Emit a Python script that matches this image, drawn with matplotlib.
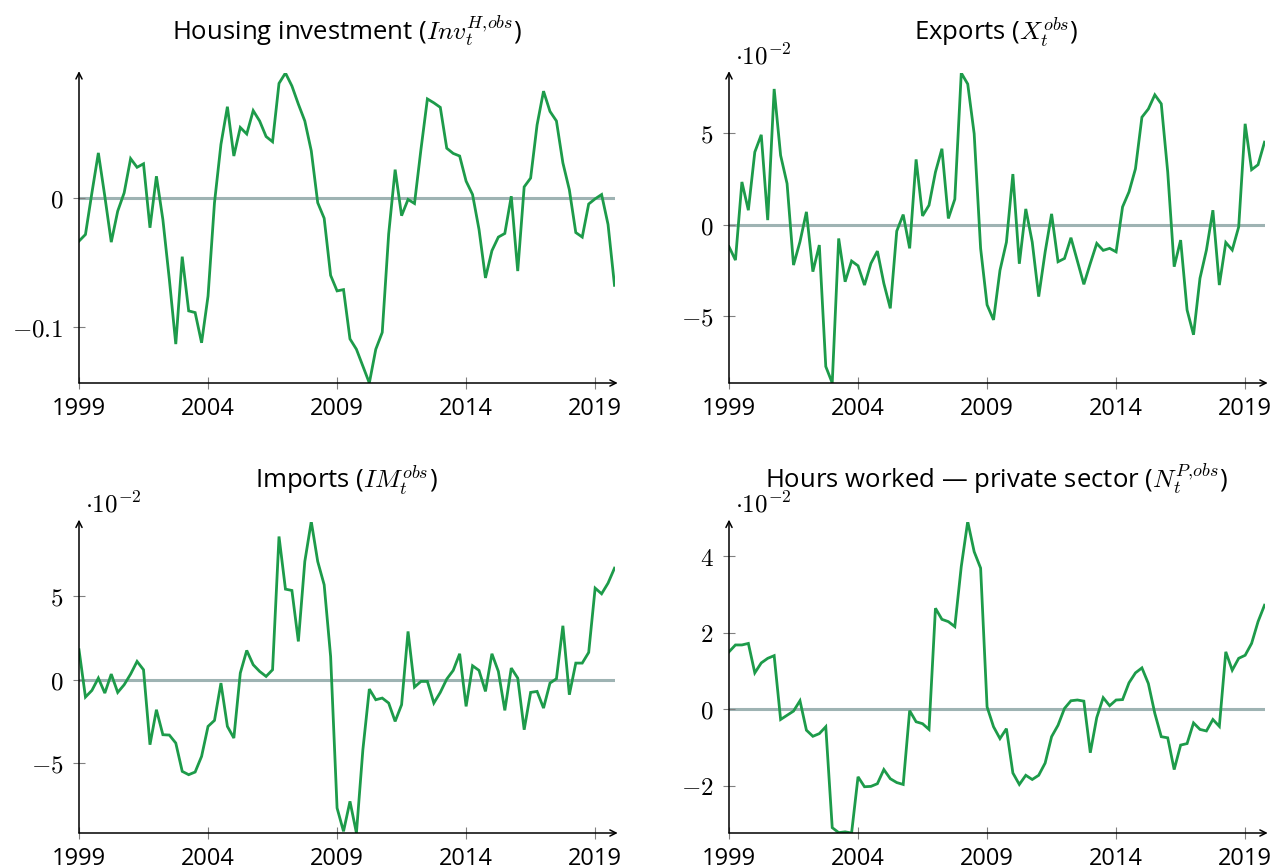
import numpy as np
import matplotlib
matplotlib.use("Agg")
import matplotlib.pyplot as plt
from matplotlib.ticker import FixedLocator, FixedFormatter

plt.rcParams['font.family'] = ['Open Sans', 'DejaVu Sans']
plt.rcParams['mathtext.fontset'] = 'cm'

start_year = 1999

housing = [-0.0336, -0.0285, 0.0036, 0.0344, 0.001, -0.0344, -0.0105, 0.0036, 0.030, 0.0233,
           0.026, -0.0233, 0.0164, -0.017, -0.063, -0.113, -0.0456, -0.0874, -0.0887, -0.112,
           -0.076, -0.004, 0.041, 0.070, 0.032, 0.054, 0.049, 0.067, 0.059, 0.047,
           0.043, 0.088, 0.096, 0.086, 0.072, 0.059, 0.036, -0.004, -0.016, -0.060,
           -0.072, -0.071, -0.109, -0.117, -0.130, -0.143, -0.117, -0.104, -0.028, 0.0215,
           -0.014, -0.0015, -0.0046, 0.037, 0.076, 0.073, 0.0695, 0.038, 0.034, 0.032,
           0.0126, 0.0023, -0.0246, -0.062, -0.041, -0.0305, -0.0277, 0.001, -0.0567, 0.0082,
           0.015, 0.056, 0.082, 0.0664, 0.059, 0.0267, 0.006, -0.027, -0.0305, -0.005,
           -0.001, 0.0023, -0.0208, -0.0677]

# values in units of 1e-2
exports = [-1.21, -1.94, 2.32, 0.78, 3.95, 4.89, 0.24, 7.39, 3.77, 2.23,
           -2.21, -0.94, 0.69, -2.57, -1.12, -7.74, -8.64, -0.76, -3.12, -1.99,
           -2.25, -3.30, -2.12, -1.45, -3.21, -4.57, -0.36, 0.54, -1.30, 3.55,
           0.47, 1.05, 2.86, 4.13, 0.33, 1.38, 8.26, 7.66, 4.95, -1.30,
           -4.38, -5.2, -2.5, -0.96, 2.75, -2.14, 0.85, -0.96, -3.93, -1.50,
           0.58, -2.03, -1.85, -0.72, -1.99, -3.26, -2.12, -1.03, -1.41, -1.30,
           -1.49, 0.96, 1.78, 3.04, 5.85, 6.30, 7.07, 6.58, 2.86, -2.30,
           -0.85, -4.66, -6.01, -2.93, -1.39, 0.78, -3.30, -0.98, -1.39, -0.13,
           5.49, 2.99, 3.26, 4.49]

imports = [1.8, -1.04, -0.64, 0.1, -0.8, 0.34, -0.76, -0.3, 0.34, 1.1,
           0.6, -3.9, -1.8, -3.3, -3.32, -3.8, -5.5, -5.7, -5.54, -4.6,
           -2.8, -2.44, -0.2, -2.8, -3.5, 0.4, 1.76, 0.9, 0.5, 0.2,
           0.6, 8.6, 5.44, 5.36, 2.3, 7.1, 9.5, 7.1, 5.7, 1.4,
           -7.7, -9.1, -7.3, -9.2, -4.2, -0.56, -1.2, -1.1, -1.4, -2.5,
           -1.5, 2.9, -0.44, -0.1, -0.1, -1.4, -0.76, 0.04, 0.56, 1.56,
           -1.6, 0.84, 0.56, -0.7, 1.56, 0.5, -1.84, 0.7, 0.1, -3.0,
           -0.76, -0.7, -1.7, -0.2, 0.06, 3.24, -0.9, 1.0, 1.0, 1.64,
           5.5, 5.16, 5.8, 6.7]

hours = [1.50, 1.68, 1.68, 1.72, 0.95, 1.21, 1.33, 1.40, -0.27, -0.16,
         -0.05, 0.22, -0.55, -0.71, -0.64, -0.46, -3.10, -3.23, -3.21, -3.24,
         -1.77, -2.03, -2.02, -1.95, -1.58, -1.82, -1.92, -1.97, -0.04, -0.33,
         -0.38, -0.53, 2.64, 2.35, 2.29, 2.16, 3.73, 4.91, 4.12, 3.69,
         0.06, -0.46, -0.77, -0.51, -1.67, -1.97, -1.73, -1.84, -1.73, -1.41,
         -0.72, -0.42, 0.02, 0.22, 0.24, 0.21, -1.14, -0.22, 0.30, 0.09,
         0.24, 0.25, 0.69, 0.95, 1.08, 0.67, -0.11, -0.72, -0.75, -1.58,
         -0.94, -0.90, -0.36, -0.53, -0.57, -0.27, -0.45, 1.50, 1.02, 1.33,
         1.41, 1.72, 2.29, 2.72]

xticks = [1999, 2004, 2009, 2014, 2019]
xticklabels = ["1999", "2004", "2009", "2014", "2019"]

titles = [r"Housing investment ($Inv_t^{H,\!obs}$)",
          r"Exports ($X_t^{obs}$)",
          r"Imports ($IM_t^{obs}$)",
          r"Hours worked — private sector ($N_t^{P,\!obs}$)"]
yticks_list = [[-0.1, 0], [-5, 0, 5], [-5, 0, 5], [-2, 0, 2, 4]]
yticklabels_list = [[r"$-0.1$", r"$0$"], [r"$-5$", r"$0$", r"$5$"],
                    [r"$-5$", r"$0$", r"$5$"], [r"$-2$", r"$0$", r"$2$", r"$4$"]]
scaled = [False, True, True, True]
series = [housing, exports, imports, hours]

W, H = 1276, 868
fig = plt.figure(figsize=(W / 100, H / 100), dpi=100)
positions = [
    [79 / W, (H - 383) / H, 535.5 / W, 310 / H],
    [729 / W, (H - 383) / H, 535.5 / W, 310 / H],
    [79 / W, (H - 833) / H, 535.5 / W, 311.5 / H],
    [729 / W, (H - 833) / H, 535.5 / W, 311.5 / H],
]

green = '#1d9b4a'
zero_col = '#9eb3b3'

for pos, y, title, yt, ytl, sc in zip(positions, series, titles, yticks_list, yticklabels_list, scaled):
    ax = fig.add_axes(pos)
    y = np.asarray(y)
    t = start_year + np.arange(len(y)) / 4.0
    ax.axhline(0, color=zero_col, lw=2.2, zorder=1)
    ax.plot(t, y, color=green, lw=2.0, zorder=3, solid_joinstyle='miter')
    ax.set_xlim(t[0], t[-1])
    ax.set_ylim(y.min(), y.max())
    for s in ['top', 'right', 'left', 'bottom']:
        ax.spines[s].set_visible(False)
    ax.annotate('', xy=(1.006, 0), xytext=(0, 0), xycoords='axes fraction',
                arrowprops=dict(arrowstyle='->', lw=1.1, color='black',
                                shrinkA=0, shrinkB=0, mutation_scale=11),
                annotation_clip=False, zorder=5)
    ax.annotate('', xy=(0, 1.006), xytext=(0, 0), xycoords='axes fraction',
                arrowprops=dict(arrowstyle='->', lw=1.1, color='black',
                                shrinkA=0, shrinkB=0, mutation_scale=11),
                annotation_clip=False, zorder=5)
    ax.xaxis.set_major_locator(FixedLocator(xticks))
    ax.xaxis.set_major_formatter(FixedFormatter(xticklabels))
    ax.yaxis.set_major_locator(FixedLocator(yt))
    ax.yaxis.set_major_formatter(FixedFormatter(ytl))
    ax.tick_params(axis='x', direction='inout', length=8, width=0.8, color='#808080',
                   labelsize=17, pad=6, labelcolor='black')
    ax.tick_params(axis='y', direction='inout', length=8, width=0.8, color='#808080',
                   labelsize=18, pad=7, labelcolor='black')
    ax.set_facecolor('none')
    ax.text(0.5, 1.105, title, transform=ax.transAxes, ha='center', va='baseline',
            fontsize=18.5)
    if sc:
        ax.text(0.012, 1.028, r"$\cdot 10^{-2}$", transform=ax.transAxes,
                ha='left', va='baseline', fontsize=18)

fig.savefig("out.png", dpi=100)
